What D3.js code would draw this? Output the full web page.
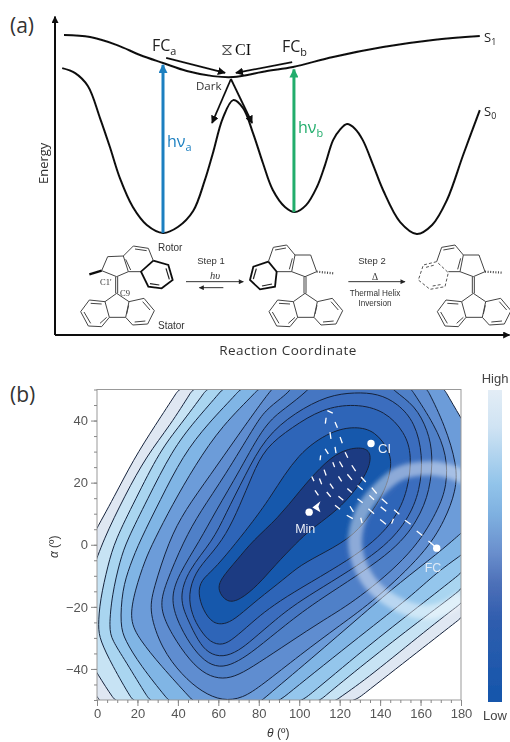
<!DOCTYPE html>
<html><head><meta charset="utf-8">
<script src="https://cdnjs.cloudflare.com/ajax/libs/d3/7.8.5/d3.min.js"></script>
<style>html,body{margin:0;padding:0;background:#fff}svg{display:block}</style>
</head><body><svg id="c" width="510" height="742"></svg>
<script>
// ---------- panel (a): reaction coordinate (0-100) vs energy (0-100)
const curveS1=[[2,93.75],[7.8,93.1],[13.8,90.6],[18.9,87.5],[24,85],[29.3,82.5],[35.1,80.9],[39.6,80.6],[47.1,82.5],[52.9,83.75],[61.8,86.9],[72.9,90],[84,92.2],[94.4,93.4]];
const curveS0=[[1.6,83.4],[4.4,81.9],[7.3,77.8],[10,67.8],[12.2,58.75],[14.4,49.1],[17.3,40],[20.4,34.4],[24,31.9],[27.3,33.75],[30.7,38.75],[33.3,48.4],[35.1,56.9],[37.3,67.8],[39.6,73.4],[41.8,70.9],[44,63.1],[46.2,53.75],[48.4,45.3],[51.1,40],[53.3,38.4],[55.8,40.6],[58.2,46.25],[60,53.1],[61.8,60.9],[63.3,64.1],[64.9,65.9],[66.7,64.4],[68.4,60.9],[70.7,53.1],[72.9,45.3],[76.7,35.3],[80.4,31.6],[83.8,34.4],[87.1,42.2],[90.7,56.25],[94.4,70.3]];
const excitations=[[24,31.9,84.4],[53.1,38.4,83]];
const excitationColors=["#1b7fc0","#22ad6c"];
const relaxArrows=[[24.7,86.6,37.8,81.9],[52.7,85.3,40.2,81.9],[39.1,80,34.9,66.25],[39.1,80,43.8,66.25]];

// ---------- molecular schemes, in units of the scheme box (0-1350 x 0-420)
const statorApex=[[170,190],[735,190],[1240,190]];
const statorLines=[[[0,0],[-35,25],[-22,72],[27,72],[37,25],[0,0]],[[-35,25],[-82,20],[-108,55],[-85,98],[-45,100],[-22,72]],[[37,25],[82,15],[113,52],[93,92],[48,95],[27,72]],[[-78,30],[-45,32]],[[-98,56],[-78,90]],[[-50,90],[-30,72]],[[78,25],[100,50]],[[86,83],[54,86]],[[30,62],[36,36]]];
const rotorThin=[
 [[125,122],[143,80],[190,78],[205,125],[170,140],[125,122]],[[190,78],[220,48],[265,55],[280,92]],[[205,125],[243,125]],[[197,88],[212,120]],[[225,57],[260,62]],
 [[735,140],[770,125],[752,75],[705,75],[695,125],[735,140]],[[705,75],[680,45],[640,52],[625,95]],[[650,125],[695,125]],[[697,85],[688,118]],[[645,60],[678,54]],
 [[1240,140],[1275,125],[1257,75],[1210,75],[1200,125],[1240,140]],[[1210,75],[1185,45],[1145,52],[1130,95]],[[1165,125],[1200,125]],[[1202,85],[1193,118]],[[1150,60],[1183,54]]];
const rotorBold=[[[280,92],[325,105],[338,150],[305,175],[265,170],[243,125],[280,92]],[[625,95],[580,110],[570,150],[600,178],[645,170],[650,125],[625,95]]];
const rotorBoldInner=[[[318,115],[328,148]],[[298,165],[270,161]],[[589,116],[580,147]],[[606,168],[636,162]]];
const rotorDashed=[[[1130,95],[1090,105],[1075,150],[1110,178],[1155,170],[1165,128],[1130,95]],[[1098,112],[1124,105]],[[1118,168],[1146,163]]];
const methylWedge=[[88,133],[125,122]];
const methylHash=[[770,125],[820,130],[1275,125],[1328,128]];
const schemeArrows=[[378,155,550,155],[490,173,418,173],[865,155,1035,155]];

// ---------- panel (b): contour lines as closed rings of [theta, alpha], outer to inner
const contourL1=[[-2.5,2.4],[8.9,15.9],[17.8,27.2],[28.7,38.4],[40.1,49.7],[42.5,52.2],[184.5,52.2],[184.5,-21.4],[180,-23.6],[159.8,-33.9],[128.1,-50],[125.1,-51.6],[1.5,-51.6],[1.5,-50],[0,-49],[-3,-46.5],[-8,-40],[-8,-4]];
const contourL2=[[-2.5,-8.8],[3,1.4],[13.8,15.9],[24.7,28.8],[36.1,38.4],[47,49.7],[49.5,52.2],[184.5,52.2],[184.5,-16.9],[180,-18.8],[159.8,-29.1],[132.6,-43.6],[118.2,-50],[115.2,-51.6],[11.4,-51.6],[8.4,-50],[0,-41.3],[-4,-37],[-9,-30],[-9,-21],[-6,-15]];
const contourL3=[[0.5,-26.5],[1.5,-17.8],[5.4,-6.6],[8.9,1.4],[18.8,14.3],[31.2,30.4],[41,38.4],[53.9,49.7],[56.4,52.2],[184.5,52.2],[184.5,-11.4],[180,-14.6],[159.8,-24.3],[132.6,-38.1],[110.3,-50],[107.8,-51.6],[19.8,-51.6],[17.3,-50],[7.4,-38.7],[1.5,-30.7]];
const contourL4=[[5.9,-26.8],[7.4,-16.2],[11.4,-5],[14.8,1.4],[24.7,14.3],[37.1,30.4],[48.5,40],[61.8,49.7],[64.3,52.2],[184.5,52.2],[184.5,-6.6],[180,-9.2],[159.8,-19.5],[132.6,-33.3],[102.4,-50],[97.9,-51.6],[28.2,-51.6],[25.7,-50],[13.8,-37.1],[7.4,-30.7]];
const contourL5=[[11.4,-25.9],[12.4,-14.6],[16.3,-6.6],[21.3,1.4],[31.2,14.3],[42.5,28.8],[54.9,39.1],[70.7,49.7],[73.2,52.2],[184.5,52.2],[184.5,-1.1],[180,-3.4],[168.2,-8.8],[154.8,-16.9],[132.6,-28.1],[90.5,-50],[88,-51.6],[37.6,-51.6],[35.1,-50],[21.3,-38.7],[13.8,-30.7]];
const contourL6=[[15.8,-24.3],[18.8,-14.6],[23.7,-5],[28.2,1.4],[37.1,12.7],[48.5,25.6],[61.8,38.4],[79.6,49.7],[82.1,52.2],[169.6,52.2],[172.1,49.7],[180,40.7],[184.5,36.2],[184.5,6.3],[180,3.7],[168.7,-2.7],[149.9,-12.1],[132.6,-21.7],[105.3,-37.1],[81.6,-50],[79.1,-51.6],[49.5,-51.6],[47,-50],[31.2,-38.7],[21.3,-30.7]];
const contourL7=[[25.7,-21.7],[27.7,-14.6],[35.6,1.4],[43.5,11.1],[55.9,22.3],[69.7,35.2],[83.1,47.4],[88,51.3],[90.5,52.2],[161.2,52.2],[163.7,49.7],[172.1,38.4],[178.1,25.6],[177.6,17.5],[172.1,7.9],[162.2,-2.7],[137.5,-17.8],[120.2,-25.9],[100.4,-35.5],[81.6,-45.2],[72,-49.5],[62,-50.3],[52,-47.5],[42,-42],[32,-33.5]];
const contourL8=[[30.7,-20.4],[33.6,-13],[43,1.4],[50.9,10.5],[63.3,22.3],[78.1,38.4],[83.1,43.2],[91.5,47.4],[95.5,49.7],[97.9,52.2],[153.3,52.2],[155.8,49.7],[167.2,38.4],[173.1,28.8],[173.1,19.1],[168.7,11.1],[156.3,-2.7],[128.6,-17.8],[111.8,-24.3],[95.5,-31.3],[79.1,-38.4],[70,-42],[62.3,-43.4],[54,-42],[46,-37.5],[37,-29]];
const contourL9=[[36.1,-17.8],[40.1,-9.8],[50.9,1.4],[58.4,10.5],[70.7,24],[83.1,39.1],[93,43.9],[104.4,49.7],[106.8,52.2],[143.9,52.2],[146.4,49.7],[157.3,44.9],[163.7,36.8],[166.2,28.8],[164.7,17.5],[158.8,7.9],[146.4,-2.7],[109.3,-17.8],[93,-25.9],[78.1,-33.9],[70,-37.5],[62.3,-39.6],[55,-38.5],[48,-34],[41,-26.5]];
const contourL10=[[40.5,-17.2],[45,-8.2],[57.4,1.4],[63.3,9.5],[73.2,22.3],[83.1,34.6],[97.9,42.6],[114.2,48.1],[127.6,49.1],[139,48.7],[148.8,45.5],[157.3,39.4],[161.2,28.8],[159.8,17.5],[153.8,7.9],[140,-2.7],[100.4,-17.8],[88,-24.3],[77,-30.5],[70,-34.2],[62.3,-36.3],[55,-35],[50,-31],[45,-24.3]];
const contourL11=[[45,-16.2],[48.5,-8.8],[55.9,-3.4],[63.8,3.1],[70.7,12.7],[76.7,22.3],[83.1,31.3],[96.4,37.8],[111.3,43.9],[127.6,45.5],[142.4,43.2],[152.3,36.2],[155.8,28.8],[153.8,17.5],[147.4,7.9],[131.6,-2.7],[89.5,-17.8],[75,-26],[68,-30],[62.3,-32.5],[56,-31.5],[51,-27.5],[47,-22.7]];
const contourL12=[[49.9,-15.6],[51.4,-11.4],[57.4,-8.2],[65.8,-1.8],[75.7,6.3],[85.6,15],[99.4,29.7],[116.2,36.8],[127.6,38.1],[137.5,36.8],[145.4,29.7],[145.4,24],[142.4,17.5],[136.5,11.1],[127.6,3.1],[112.8,-2.4],[100.4,-6.6],[93,-10.8],[79.1,-17.8],[70,-23],[64,-25.6],[57.4,-25.6],[52.4,-21.1]];
const contourL13=[[59.4,-14.6],[61.3,-10.8],[69.2,-5],[77.1,1.4],[89.5,8.5],[100.4,17.5],[110.3,24.9],[120.2,30.4],[131.6,31.7],[136,29.4],[134,23.3],[125.1,15.3],[116.7,10.1],[105.3,4.7],[98.9,0.8],[88,-6.6],[79.6,-13],[70.7,-17.8],[64.3,-18.8]];
const contourLevels=[contourL1,contourL2,contourL3,contourL4,contourL5,contourL6,contourL7,contourL8,contourL9,contourL10,contourL11,contourL12,contourL13];
const bandColors=["#dfe7f2","#c7e3f4","#a9d5f0","#94c6ec","#80b5e5","#6c9cd9","#5f8dd0","#5080c8","#4576c2","#3a6dbe","#2f65b8","#1658ac","#1f3a82"];
const ringPath=[[181.9,21.7],[174.5,23.6],[164.7,24.6],[149.8,23],[139,17.5],[131,10.4],[127.6,1.4],[130.1,-6.6],[137.5,-14],[149.9,-19.5],[162.2,-21.7],[172.1,-20.4],[180.5,-16.9]];
const dashes=[[113.9,43.2,116.6,42.4],[113.3,40.9,112.9,39],[117.7,39.5,118.9,37.7],[115.2,36.3,115.7,34.1],[120.2,34.7,121.3,32.7],[117.7,31.5,118.2,29.5],[122.7,29.8,124,28],[112.8,30.9,114.4,29.3],[110.6,28.8,110.3,27.2],[116.6,26.6,117.5,25],[119.9,26.8,121.5,25],[126,25.6,127.9,23.7],[112.3,24.2,113.3,22.3],[119.4,22,121,20.4],[123.8,22.7,126.1,20.9],[130.6,21.8,132.9,20.2],[106.2,22,107.3,20.5],[110,21.3,111.1,19.5],[115.2,19.7,116.9,18.1],[123.8,18.1,126,16.8],[128.8,19.1,131.4,17.7],[135.9,18.4,138.3,16.5],[107.8,17.5,109.5,15.9],[113.6,17,115.6,15.4],[119.4,15.6,121.8,14.3],[128.8,14.8,131.4,13.5],[134.7,15.9,137,14.5],[140.8,14.8,143.6,13.2],[117.7,12.7,120.2,11.4],[125.1,12.4,126.8,10.6],[134.2,11.6,137,10],[140.3,12.2,143,10.8],[146.9,11.3,149.5,9.8],[123.5,9.5,126.5,8.4],[130.4,8.7,131.1,7],[140,8.1,142.9,6.6],[146.6,8.4,145.7,6.8],[152.3,7.9,155.1,6.6],[158.1,4.4,160.9,3],[163.9,1.2,166.7,-0.3],[166.7,-0.3,168,-1.1]];
const pointNames=["CI","Min","FC"];
const pointTheta=[135.5,104.9,168];
const pointAlpha=[32.6,10.5,-1.1];
const arrowHead=[[110.5,14],[106.5,12],[110.5,10.5],[109.5,12.3]];
const thetaTicks=[0,20,40,60,80,100,120,140,160,180];
const thetaMinor=d3.range(0,181,5);
const alphaTicks=[-40,-20,0,20,40];
const alphaMinor=d3.range(-50,51,5);
const colorbarStops=[[0,"#e3edf6"],[0.12,"#cfe3f3"],[0.3,"#92c4ea"],[0.4,"#7eb0e0"],[0.52,"#6a8fcd"],[0.62,"#4d70b8"],[0.74,"#2f5dae"],[1,"#1456ab"]];

// ---------- scales
const svg=d3.select("#c");
const rc=d3.scaleLinear([0,100],[55,505]);
const en=d3.scaleLinear([0,100],[335,15]);
const sx=d3.scaleLinear([0,1350],[60,510]);
const sy=d3.scaleLinear([0,420],[230,370]);
const th=d3.scaleLinear([0,180],[97,461]);
const al=d3.scaleLinear([-50,50],[700,389.5]);
const sans="'Liberation Sans',Arial,sans-serif", open="'Open Sans',sans-serif", serif="'Liberation Serif',serif";

const defs=svg.append("defs");
function marker(id,color,w,h){const m=defs.append("marker").attr("id",id).attr("viewBox","0 0 10 10").attr("refX",9).attr("refY",5).attr("markerWidth",w).attr("markerHeight",h).attr("markerUnits","userSpaceOnUse").attr("orient","auto");m.append("path").attr("d","M0,0L10,5L0,10Z").attr("fill",color);}
marker("ak","#111",8,7);marker("ab","#111",8,8);marker("as","#222",7,5);
marker("a0",excitationColors[0],10,9);marker("a1",excitationColors[1],10,9);
defs.append("clipPath").attr("id","plot").append("rect").attr("x",th(0)).attr("y",al(50)).attr("width",th(180)-th(0)).attr("height",al(-50)-al(50));
defs.append("filter").attr("id","soft").attr("x","-5%").attr("y","-5%").attr("width","110%").attr("height","110%").append("feGaussianBlur").attr("stdDeviation",0.45);
defs.append("filter").attr("id","blurRing").attr("x","-20%").attr("y","-20%").attr("width","140%").attr("height","140%").append("feGaussianBlur").attr("stdDeviation",2);
const gr=defs.append("linearGradient").attr("id","cb").attr("x1",0).attr("x2",0).attr("y1",0).attr("y2",1);
colorbarStops.forEach(s=>gr.append("stop").attr("offset",s[0]).attr("stop-color",s[1]));

function txt(g,x,y,s,o={}){const t=g.append("text").attr("x",x).attr("y",y).text(s).attr("font-family",o.f||sans).attr("font-size",o.s||12).attr("fill",o.c||"#222").attr("text-anchor",o.a||"start");if(o.i)t.attr("font-style","italic");if(o.r)t.attr("transform",`rotate(${o.r} ${x} ${y})`);if(o.w)t.attr("font-weight",o.w);return t;}
function sub(g,x,y,main,s,o){const t=txt(g,x,y,main,o);t.append("tspan").text(s).attr("font-size",(o.s||12)*0.68).attr("dy",(o.s||12)*0.22);return t;}

// ---------- panel (a)
const A=svg.append("g").attr("filter","url(#soft)");
const line=d3.line().x(d=>rc(d[0])).y(d=>en(d[1])).curve(d3.curveCatmullRom.alpha(0.5));
A.append("line").attr("x1",rc(0)).attr("x2",rc(0)).attr("y1",en(0)).attr("y2",en(99.5)).attr("stroke","#111").attr("stroke-width",2).attr("marker-end","url(#ak)");
A.append("line").attr("x1",rc(0)).attr("x2",rc(101)).attr("y1",en(0)).attr("y2",en(0)).attr("stroke","#111").attr("stroke-width",2).attr("marker-end","url(#ak)");
[curveS1,curveS0].forEach(c=>A.append("path").attr("d",line(c)).attr("fill","none").attr("stroke","#111").attr("stroke-width",2));
excitations.forEach((e,i)=>A.append("line").attr("x1",rc(e[0])).attr("x2",rc(e[0])).attr("y1",en(e[1])).attr("y2",en(e[2])).attr("stroke",excitationColors[i]).attr("stroke-width",3).attr("marker-end",`url(#a${i})`));
relaxArrows.forEach(a=>A.append("line").attr("x1",rc(a[0])).attr("y1",en(a[1])).attr("x2",rc(a[2])).attr("y2",en(a[3])).attr("stroke","#111").attr("stroke-width",1.8).attr("marker-end","url(#ab)"));
const schemeLine=d3.line().x(d=>sx(d[0])).y(d=>sy(d[1]));
statorApex.forEach(ap=>{statorLines.forEach(l=>A.append("path").attr("d",schemeLine(l.map(p=>[p[0]+ap[0],p[1]+ap[1]]))).attr("fill","none").attr("stroke","#444").attr("stroke-width",1));
 [-3,3].forEach(dx=>A.append("line").attr("x1",sx(ap[0]+dx)).attr("x2",sx(ap[0]+dx)).attr("y1",sy(ap[1])).attr("y2",sy(ap[1]-50)).attr("stroke","#444"));});
rotorThin.forEach(l=>A.append("path").attr("d",schemeLine(l)).attr("fill","none").attr("stroke","#444").attr("stroke-width",1));
rotorBold.forEach(l=>A.append("path").attr("d",schemeLine(l)).attr("fill","none").attr("stroke","#111").attr("stroke-width",1.8));
rotorBoldInner.forEach(l=>A.append("path").attr("d",schemeLine(l)).attr("fill","none").attr("stroke","#222").attr("stroke-width",1.2));
rotorDashed.forEach(l=>A.append("path").attr("d",schemeLine(l)).attr("fill","none").attr("stroke","#555").attr("stroke-width",1).attr("stroke-dasharray","3 2"));
A.append("path").attr("d",schemeLine(methylWedge)).attr("stroke","#111").attr("stroke-width",2.4);
d3.range(0,methylHash.length,2).forEach(i=>A.append("path").attr("d",schemeLine([methylHash[i],methylHash[i+1]])).attr("stroke","#444").attr("stroke-width",2.2).attr("stroke-dasharray","1 1.6"));
schemeArrows.forEach(a=>A.append("line").attr("x1",sx(a[0])).attr("x2",sx(a[2])).attr("y1",sy(a[1])).attr("y2",sy(a[3])).attr("stroke","#333").attr("stroke-width",1).attr("marker-end","url(#as)"));

sub(A,152,51,"FC","a",{s:16,f:open,c:"#222"});
sub(A,282,52,"FC","b",{s:16,f:open,c:"#222"});
txt(A,221,55,"⧖",{s:17,f:"'DejaVu Sans'",c:"#555"});
txt(A,235,55,"CI",{s:16,f:serif,c:"#111"});
txt(A,196,90,"Dark",{s:11.5,f:open,c:"#333"});
sub(A,167,147,"hν","a",{s:16,f:open,c:excitationColors[0]});
sub(A,298,133,"hν","b",{s:16,f:open,c:excitationColors[1]});
sub(A,484,42,"S","1",{s:13,f:open,c:"#222"});
sub(A,484,116,"S","0",{s:13,f:open,c:"#222"});
txt(A,48,184,"Energy",{s:13,f:open,r:-90,c:"#333"});
txt(A,288,355,"Reaction Coordinate",{s:13.5,f:open,a:"middle",c:"#333"}).attr("letter-spacing",0.5);
txt(A,158,251,"Rotor",{s:10,c:"#333"});
txt(A,158,329,"Stator",{s:10,c:"#333"});
txt(A,211,264,"Step 1",{s:9.5,a:"middle",c:"#333"});
txt(A,215,279,"hυ",{s:10.5,a:"middle",f:serif,i:1,c:"#333"});
txt(A,372,264,"Step 2",{s:9.5,a:"middle",c:"#333"});
txt(A,375,280,"Δ",{s:9.5,a:"middle",f:serif,c:"#333"});
txt(A,375,296,"Thermal Helix",{s:8.2,a:"middle",c:"#333"});
txt(A,375,305.5,"Inversion",{s:8.2,a:"middle",c:"#333"});
txt(A,100,285,"C1'",{s:8.5,f:serif,c:"#333"});
txt(A,120,296,"C9",{s:8.5,f:serif,c:"#333"});

// ---------- panel (b)
const B=svg.append("g").attr("filter","url(#soft)");
const P=B.append("g").attr("clip-path","url(#plot)");
const ringLine=d3.line().x(d=>th(d[0])).y(d=>al(d[1])).curve(d3.curveBasisClosed);
contourLevels.forEach((c,i)=>P.append("path").attr("d",ringLine(c)).attr("fill",bandColors[i]).attr("stroke","#16233c").attr("stroke-width",1));
P.append("path").attr("d",d3.line().x(d=>th(d[0])).y(d=>al(d[1])).curve(d3.curveCatmullRom.alpha(0.5))(ringPath)).attr("fill","none").attr("stroke","#fff").attr("stroke-opacity",0.45).attr("stroke-width",14).attr("filter","url(#blurRing)");
dashes.forEach(d=>P.append("line").attr("x1",th(d[0])).attr("y1",al(d[1])).attr("x2",th(d[2])).attr("y2",al(d[3])).attr("stroke","#fff").attr("stroke-width",1.3));
pointNames.forEach((n,i)=>P.append("circle").attr("cx",th(pointTheta[i])).attr("cy",al(pointAlpha[i])).attr("r",3.7).attr("fill","#fff"));
P.append("path").attr("d",d3.line().x(d=>th(d[0])).y(d=>al(d[1])).curve(d3.curveLinearClosed)(arrowHead)).attr("fill","#fff");
txt(P,th(135.5)+7,al(32.6)+9,pointNames[0],{s:13,c:"#e8eef8"});
txt(P,th(104.9)-14,al(10.5)+21,pointNames[1],{s:12.5,c:"#e8eef8"});
txt(P,th(168)-12,al(-1.1)+24,pointNames[2],{s:12.5,c:"#dfeaf6"});
B.append("rect").attr("x",th(0)).attr("y",al(50)).attr("width",th(180)-th(0)).attr("height",al(-50)-al(50)).attr("fill","none").attr("stroke","#999").attr("stroke-width",1);
const xMinor=d3.axisBottom(th).tickValues(thetaMinor).tickSize(3).tickFormat("");
const xMajor=d3.axisBottom(th).tickValues(thetaTicks).tickSize(6);
const yMinor=d3.axisLeft(al).tickValues(alphaMinor).tickSize(3).tickFormat("");
const yMajor=d3.axisLeft(al).tickValues(alphaTicks).tickSize(6).tickFormat(d=>d<0?"−"+(-d):d);
[[xMinor,"b"],[xMajor,"b"],[yMinor,"l"],[yMajor,"l"]].forEach(([a,s])=>{const g=B.append("g").attr("transform",s==="b"?`translate(0,${al(-50)})`:`translate(${th(0)},0)`).call(a);
 g.select(".domain").remove();g.selectAll("line").attr("stroke","#888");g.selectAll("text").attr("font-family",sans).attr("font-size",13).attr("fill","#555");});
txt(B,267,737,"θ",{s:12,i:1,c:"#333"});
txt(B,277,737,"(º)",{s:12,c:"#333"});
txt(B,58,558,"α",{s:12,i:1,r:-90,c:"#333"});
txt(B,58,548,"(º)",{s:12,r:-90,c:"#333"});
B.append("rect").attr("x",488).attr("y",390).attr("width",14).attr("height",312).attr("fill","url(#cb)");
txt(B,495,383,"High",{s:13,a:"middle",c:"#444"});
txt(B,495,720,"Low",{s:13,a:"middle",c:"#444"});
txt(svg,10,33,"(a)",{s:21,f:open,c:"#333"});
txt(svg,10,402,"(b)",{s:21,f:open,c:"#333"});
</script></body></html>
